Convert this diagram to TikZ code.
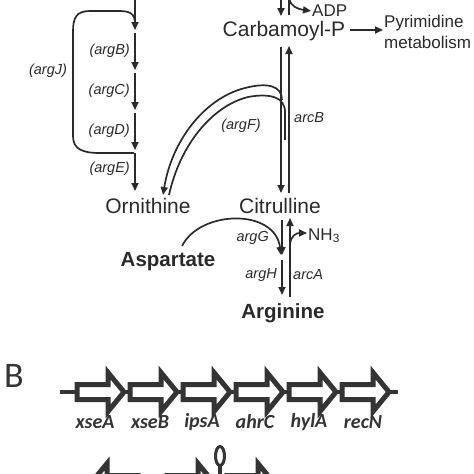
\documentclass[tikz,border=0pt]{standalone}
\usepackage{fontspec}
\setmainfont{Liberation Sans}
\newfontfamily\genefont{Carlito}
\usetikzlibrary{arrows.meta}
\definecolor{ink}{RGB}{42,42,42}
\definecolor{geneink}{RGB}{52,52,52}
\tikzset{
  flow/.style={draw=ink,line width=1.7pt},
  tip/.style={-{Triangle[length=8pt,width=7pt]}},
  big/.style={text=ink,inner sep=0pt,font=\fontsize{21}{25}\selectfont},
  bigb/.style={text=ink,inner sep=0pt,font=\fontsize{20.5}{25}\selectfont\bfseries},
  mid/.style={text=ink,inner sep=0pt,font=\fontsize{17}{21}\selectfont},
  enz/.style={text=ink,inner sep=0pt,font=\fontsize{14.5}{17}\selectfont\itshape},
  genelab/.style={text=geneink,inner sep=0pt,font=\genefont\fontsize{20}{24}\selectfont\bfseries\itshape},
  genebox/.style={draw=geneink,fill=white,line width=5pt,line join=miter},
  gene/.pic={\path[genebox] (0,-7.5) -- (31,-7.5) -- (31,-19.5) -- (47,0) -- (31,19.5) -- (31,7.5) -- (0,7.5) -- cycle;}
}
\begin{document}
\begin{tikzpicture}[x=1pt,y=-1pt]
\useasboundingbox[fill=white] (0,0) rectangle (474,474);

% ---------- Panel A texts ----------
\node[big,anchor=base] (carb) at (284,36) {Carbamoyl-P};
\node[mid,anchor=base west] (adp) at (312,16) {ADP};
\node[mid,anchor=base west] (pyr1) at (384,27) {Pyrimidine};
\node[mid,anchor=base west] (pyr2) at (384,48) {metabolism};
\node[big,anchor=base] (orn) at (148,213) {Ornithine};
\node[big,anchor=base] (cit) at (280,213) {Citrulline};
\node[bigb,anchor=base] (asp) at (168,266) {Aspartate};
\node[bigb,anchor=base] (arg) at (283,318) {Arginine};
\node[mid,anchor=base west] (nh) at (308,240) {NH\textsubscript{3}};

\node[enz,anchor=east] (argB) at (130,51) {(argB)};
\node[enz,anchor=east] (argC) at (130,91) {(argC)};
\node[enz,anchor=east] (argD) at (130,131) {(argD)};
\node[enz,anchor=east] (argE) at (130,169) {(argE)};
\node[enz] (argJ) at (48,71) {(argJ)};
\node[enz] (argF) at (241,126) {(argF)};
\node[enz,anchor=west] (arcB) at (294,118) {arcB};
\node[enz,anchor=east] (argG) at (269,238) {argG};
\node[enz,anchor=east] (argH) at (277,275) {argH};
\node[enz,anchor=west] (arcA) at (293,275) {arcA};

% ---------- left chain ----------
\coordinate (c0) at (135,-3);
\coordinate (c1) at (135,30);
\coordinate (c1b) at (135,33);
\coordinate (c2) at (135,70);
\coordinate (c2b) at (135,73);
\coordinate (c3) at (135,110);
\coordinate (c3b) at (135,113);
\coordinate (c4) at (135,150);
\coordinate (c4b) at (135,153);
\coordinate (c5) at (135,191);
\draw[flow,tip] (c0) -- (c1);
\draw[flow,tip] (c1b) -- (c2);
\draw[flow,tip] (c2b) -- (c3);
\draw[flow,tip] (c3b) -- (c4);
\draw[flow,tip] (c4b) -- (c5);
% argJ loop
\draw[flow] (135,22) .. controls (134,10) and (125,11) .. (112,11) -- (90,11)
  .. controls (76,11) and (73,18) .. (73,32) -- (73,136)
  .. controls (73,149) and (82,153) .. (100,153) -- (134,153);

% ---------- carbamoyl-P column ----------
\draw[flow,tip] (281,-3) -- (281,16);
\draw[flow] (289,-3) -- (289,15);
\draw[flow,tip] (289,-1) .. controls (291,6) and (297,9) .. (311,11);
\draw[flow,tip] (350,30) -- (383,30);
\draw[flow,tip] (281,47) -- (281,193);
\draw[flow,tip] (289,193) -- (289,46);

% argF double curve
\draw[flow,tip] (282,100) .. controls (282,86) and (268,82) .. (245,88)
  .. controls (205,98) and (172,140) .. (163,195);
\draw[flow] (285,140) -- (285,112) .. controls (285,97) and (270,93) .. (248,97)
  .. controls (212,106) and (180,145) .. (169,195);

% ---------- citrulline -> arginine ----------
\draw[flow,tip] (282,220) -- (282,255);
\draw[flow,tip] (282,260) -- (282,295);
\draw[flow,tip] (290,297) -- (290,218);
\draw[flow,tip] (290,244) .. controls (291,236) and (296,233) .. (307,233);
\draw[flow,tip] (182,246) .. controls (200,210) and (275,208) .. (281,255);

% ---------- Panel B ----------
\node[text=geneink,inner sep=0pt,font=\genefont\fontsize{36}{40}\selectfont,anchor=base west] (B) at (4,387) {B};
\draw[geneink,line width=3.5pt] (60,392) -- (398,392);
\foreach \x in {77,130,183,236,289,342} { \pic at (\x,392) {gene}; }
\node[genelab] (g1) at (95,422) {xseA};
\node[genelab] (g2) at (150,422) {xseB};
\node[genelab] (g3) at (202,422) {ipsA};
\node[genelab] (g4) at (255,422) {ahrC};
\node[genelab] (g5) at (309,422) {hylA};
\node[genelab] (g6) at (363,422) {recN};

\pic[xscale=-1] at (138,483) {gene};
\pic at (167,483) {gene};
\draw[geneink,line width=3.5pt] (220,466) -- (220,483);
\draw[geneink,line width=3pt] (220,456) ellipse [x radius=4.5,y radius=9.5];
\pic at (227,483) {gene};
\end{tikzpicture}
\end{document}
